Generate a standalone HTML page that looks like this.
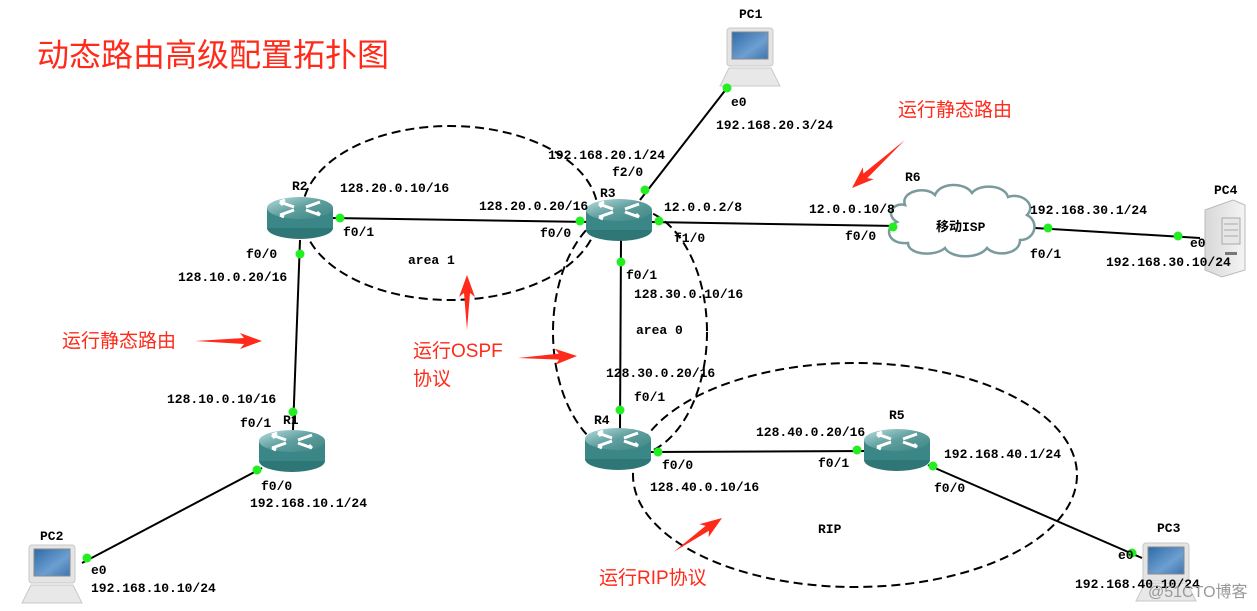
<!DOCTYPE html>
<html><head><meta charset="utf-8"><style>
html,body{margin:0;padding:0;background:#fff;width:1257px;height:611px;overflow:hidden}
svg{display:block}
.l{font-family:"Liberation Mono","Noto Sans CJK SC",monospace;font-weight:bold;font-size:13px;fill:#000}
.r{font-family:"Liberation Sans","Noto Sans CJK SC",sans-serif;font-size:19px;fill:#ff2a1a}
</style></head><body>
<svg width="1257" height="611" viewBox="0 0 1257 611" xmlns="http://www.w3.org/2000/svg">
<defs>
<linearGradient id="top" x1="0" y1="0" x2="1" y2="1"><stop offset="0" stop-color="#b9dede"/><stop offset="0.5" stop-color="#5e9e9e"/><stop offset="1" stop-color="#3f8585"/></linearGradient>
<linearGradient id="scr" x1="0" y1="0" x2="1" y2="1"><stop offset="0" stop-color="#2e6aa8"/><stop offset="0.6" stop-color="#6d9fd0"/><stop offset="1" stop-color="#3d74b0"/></linearGradient>
<linearGradient id="srv" x1="0" y1="0" x2="1" y2="0"><stop offset="0" stop-color="#d8d8d8"/><stop offset="1" stop-color="#f4f4f4"/></linearGradient>
<g id="rt">
<ellipse cx="0" cy="10" rx="33" ry="11" fill="#2f7676"/>
<rect x="-33" y="-10" width="66" height="20" fill="#3b8787"/>
<ellipse cx="0" cy="-10" rx="33" ry="11" fill="url(#top)"/>
<g stroke="#fff" stroke-width="3" fill="none">
<path d="M-20,-16 L-6,-11 M-20,-16 l5,-2 M-20,-16 l3,3"/>
<path d="M20,-16 L6,-11"/>
<path d="M-20,-3 L-6,-8 M-20,-3 l4,2"/>
<path d="M20,-3 L6,-8 M20,-3 l-3,-3"/>
</g>
</g>
<g id="pc">
<rect x="0" y="0" width="46" height="38" rx="3" fill="#e4e4e4" stroke="#c8c8c8"/>
<rect x="5" y="4" width="36" height="27" fill="url(#scr)" stroke="#888"/>
<path d="M2,40 L44,40 L53,58 L-7,58 Z" fill="#e8e8e8" stroke="#c9c9c9"/>
</g>
</defs>

<!-- dashed ellipses -->
<g fill="none" stroke="#000" stroke-width="2" stroke-dasharray="9,5">
<ellipse cx="450" cy="213" rx="148" ry="87"/>
<ellipse cx="630" cy="332" rx="77" ry="124"/>
<ellipse cx="855" cy="475" rx="222" ry="112"/>
</g>

<!-- links -->
<g stroke="#000" stroke-width="2">
<line x1="330" y1="218" x2="590" y2="222"/>
<line x1="300" y1="240" x2="293" y2="430"/>
<line x1="640" y1="200" x2="727" y2="88"/>
<line x1="650" y1="222" x2="895" y2="226"/>
<line x1="1035" y1="228" x2="1200" y2="238"/>
<line x1="621" y1="240" x2="620" y2="430"/>
<line x1="650" y1="452" x2="870" y2="451"/>
<line x1="928" y1="465" x2="1142" y2="558"/>
<line x1="262" y1="468" x2="82" y2="563"/>
</g>

<!-- cloud -->
<path d="M905,205 C900,192 925,185 935,195 C940,182 965,182 972,193 C980,183 1005,185 1008,197 C1022,192 1037,205 1027,215 C1040,222 1035,240 1020,240 C1020,255 995,257 987,248 C978,260 950,258 945,248 C935,257 908,255 908,243 C888,245 883,228 897,222 C885,215 893,202 905,205 Z" fill="#fff" stroke="#7a9a9e" stroke-width="2.5"/>

<!-- routers -->
<use href="#rt" x="300" y="218"/>
<use href="#rt" x="619" y="220"/>
<use href="#rt" x="618" y="449"/>
<use href="#rt" x="897" y="450"/>
<use href="#rt" x="292" y="451"/>

<!-- PCs -->
<use href="#pc" x="727" y="28"/>
<use href="#pc" x="29" y="545"/>
<use href="#pc" x="1143" y="543"/>
<!-- server PC4 -->
<path d="M1205,210 L1233,200 L1245,205 L1245,270 L1222,277 L1205,270 Z" fill="url(#srv)" stroke="#bbb"/>
<rect x="1222" y="218" width="18" height="26" fill="#e6e6e6" stroke="#aaa"/>
<line x1="1224" y1="224" x2="1238" y2="224" stroke="#aaa"/><line x1="1224" y1="230" x2="1238" y2="230" stroke="#aaa"/><line x1="1224" y1="236" x2="1238" y2="236" stroke="#aaa"/>
<rect x="1225" y="252" width="12" height="3" fill="#777"/>

<!-- green dots -->
<g fill="#22ee22">
<circle cx="340" cy="218" r="4.5"/><circle cx="580" cy="221" r="4.5"/>
<circle cx="300" cy="254" r="4.5"/><circle cx="293" cy="412" r="4.5"/>
<circle cx="645" cy="190" r="4.5"/><circle cx="727" cy="88" r="4.5"/>
<circle cx="659" cy="221" r="4.5"/><circle cx="893" cy="227" r="4.5"/>
<circle cx="1048" cy="228" r="4.5"/><circle cx="1178" cy="236" r="4.5"/>
<circle cx="621" cy="262" r="4.5"/><circle cx="620" cy="410" r="4.5"/>
<circle cx="658" cy="452" r="4.5"/><circle cx="857" cy="450" r="4.5"/>
<circle cx="933" cy="466" r="4.5"/><circle cx="1132" cy="553" r="4.5"/>
<circle cx="257" cy="470" r="4.5"/><circle cx="87" cy="558" r="4.5"/>
</g>

<!-- red arrows -->
<g fill="#ff2a1a">
<g transform="translate(852,188) rotate(137.8)"><polygon points="-71,0 -18,-3 -22,-8 0,0 -22,8 -18,3"/></g>
<g transform="translate(262,341)"><polygon points="-67,0 -18,-3 -22,-8 0,0 -22,8 -18,3"/></g>
<g transform="translate(467,275) rotate(-90)"><polygon points="-55,0 -18,-3 -22,-8 0,0 -22,8 -18,3"/></g>
<g transform="translate(577,356) rotate(-2)"><polygon points="-59,0 -18,-3 -22,-8 0,0 -22,8 -18,3"/></g>
<g transform="translate(722,518) rotate(-35)"><polygon points="-59,0 -18,-3 -22,-8 0,0 -22,8 -18,3"/></g>
</g>

<!-- labels -->
<g class="l">
<text x="292" y="190">R2</text>
<text x="340" y="192">128.20.0.10/16</text>
<text x="343" y="236">f0/1</text>
<text x="246" y="258">f0/0</text>
<text x="178" y="281">128.10.0.20/16</text>
<text x="408" y="264">area 1</text>
<text x="479" y="210">128.20.0.20/16</text>
<text x="600" y="197">R3</text>
<text x="548" y="159">192.168.20.1/24</text>
<text x="612" y="176">f2/0</text>
<text x="540" y="237">f0/0</text>
<text x="664" y="211">12.0.0.2/8</text>
<text x="674" y="242">f1/0</text>
<text x="626" y="279">f0/1</text>
<text x="634" y="298">128.30.0.10/16</text>
<text x="636" y="334">area 0</text>
<text x="606" y="377">128.30.0.20/16</text>
<text x="634" y="401">f0/1</text>
<text x="594" y="424">R4</text>
<text x="662" y="469">f0/0</text>
<text x="650" y="491">128.40.0.10/16</text>
<text x="756" y="436">128.40.0.20/16</text>
<text x="889" y="419">R5</text>
<text x="818" y="467">f0/1</text>
<text x="944" y="458">192.168.40.1/24</text>
<text x="934" y="492">f0/0</text>
<text x="818" y="533">RIP</text>
<text x="1157" y="532">PC3</text>
<text x="1118" y="559">e0</text>
<text x="1075" y="588">192.168.40.10/24</text>
<text x="40" y="540">PC2</text>
<text x="91" y="574">e0</text>
<text x="91" y="592">192.168.10.10/24</text>
<text x="240" y="427">f0/1</text>
<text x="283" y="424">R1</text>
<text x="167" y="403">128.10.0.10/16</text>
<text x="261" y="490">f0/0</text>
<text x="250" y="507">192.168.10.1/24</text>
<text x="739" y="18">PC1</text>
<text x="731" y="106">e0</text>
<text x="716" y="129">192.168.20.3/24</text>
<text x="905" y="181">R6</text>
<text x="809" y="213">12.0.0.10/8</text>
<text x="845" y="240">f0/0</text>
<text x="936" y="231">移动ISP</text>
<text x="1030" y="214">192.168.30.1/24</text>
<text x="1030" y="258">f0/1</text>
<text x="1214" y="194">PC4</text>
<text x="1190" y="247">e0</text>
<text x="1106" y="266">192.168.30.10/24</text>
</g>
<text x="1148" y="597" style="font-family:'Liberation Sans','Noto Sans CJK SC',sans-serif;font-size:16px;fill:#999">@51CTO博客</text>

<g class="r">
<text x="37" y="66" style="font-size:32px">动态路由高级配置拓扑图</text>
<text x="898" y="116">运行静态路由</text>
<text x="62" y="347">运行静态路由</text>
<text x="413" y="357">运行OSPF</text>
<text x="413" y="385">协议</text>
<text x="599" y="584">运行RIP协议</text>
</g>
</svg>
</body></html>
